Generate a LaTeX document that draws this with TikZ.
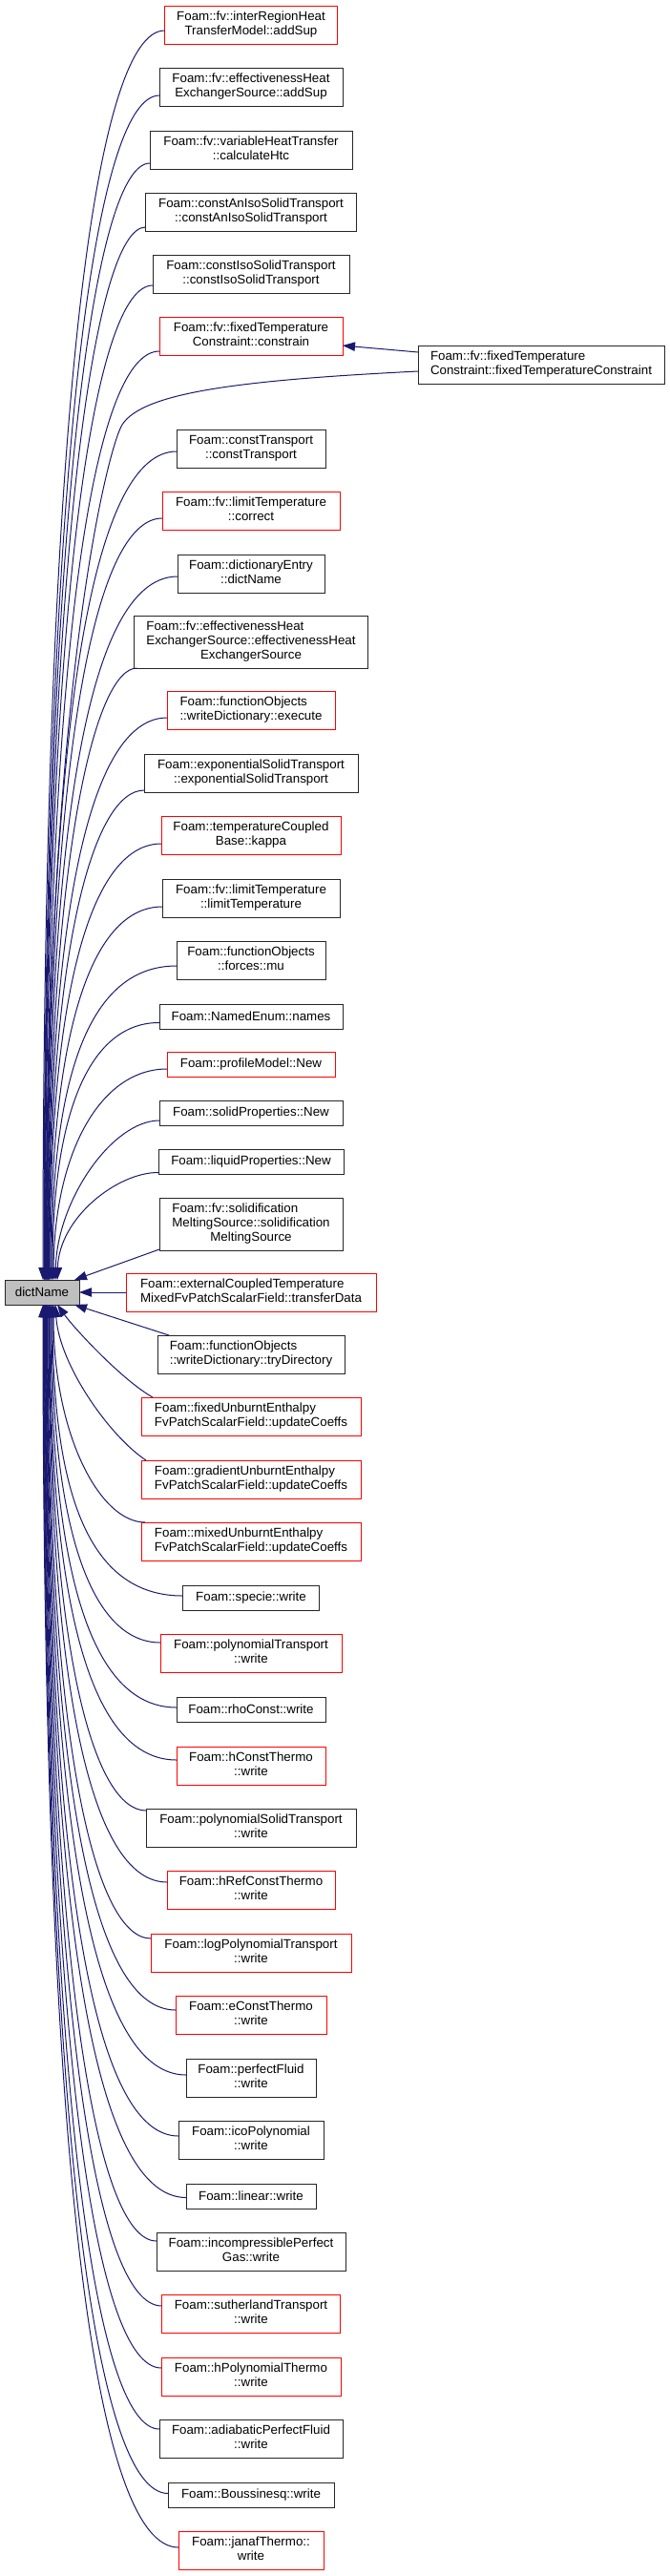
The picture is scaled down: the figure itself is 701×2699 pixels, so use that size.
\documentclass[tikz,border=0pt]{standalone}
\usepackage{fontspec}
\setmainfont{Liberation Sans}
\usetikzlibrary{arrows.meta,calc}
\definecolor{mblue}{RGB}{25,25,112}
\newcommand\lns[2]{\begin{tabular}{@{}#1@{}}#2\end{tabular}}
\newcommand\cn[6]{\node[#2, minimum width={#3*0.75pt}, minimum height={(#5-#4)*0.75pt}] (#1) at (263,{(#4+#5)/2}) {#6};}
\begin{document}
\begin{tikzpicture}[x=0.75pt,y=-0.75pt,
  box/.style={draw=black!85, line width=0.75pt, fill=white, inner sep=0pt, outer sep=0pt, font=\fontsize{10}{11.25}\selectfont},
  hot/.style={box, draw=red},
  edge/.style={draw=mblue, line width=0.75pt, -{Triangle[length=9.75pt,width=7pt]}, fill=none}]
\useasboundingbox[fill=white] (0,0) rectangle (701,2699);

\cn{n1}{hot}{181}{6}{46}{\lns{c}{Foam::fv::interRegionHeat\\TransferModel::addSup}}
\cn{n2}{box}{192}{71}{111}{\lns{c}{Foam::fv::effectivenessHeat\\ExchangerSource::addSup}}
\cn{n3}{box}{212}{137}{177}{\lns{c}{Foam::fv::variableHeatTransfer\\::calculateHtc}}
\cn{n4}{box}{221}{202}{242}{\lns{c}{Foam::constAnIsoSolidTransport\\::constAnIsoSolidTransport}}
\cn{n5}{box}{206}{267}{307}{\lns{c}{Foam::constIsoSolidTransport\\::constIsoSolidTransport}}
\cn{n6}{hot}{192}{332}{372}{\lns{c}{Foam::fv::fixedTemperature\\Constraint::constrain}}
\node[box, minimum width={258*0.75pt}, minimum height={40*0.75pt}] (R) at (567,382) {\lns{l}{Foam::fv::fixedTemperature\\Constraint::fixedTemperatureConstraint}};
\cn{n7}{box}{156}{450}{490}{\lns{c}{Foam::constTransport\\::constTransport}}
\cn{n8}{hot}{186}{515}{555}{\lns{c}{Foam::fv::limitTemperature\\::correct}}
\cn{n9}{box}{154}{581}{621}{\lns{c}{Foam::dictionaryEntry\\::dictName}}
\cn{n10}{box}{245}{645}{700}{\lns{l}{Foam::fv::effectivenessHeat\\ExchangerSource::effectivenessHeat\\\multicolumn{1}{@{}c@{}}{ExchangerSource}}}
\cn{n11}{hot}{176}{724}{764}{\lns{l}{Foam::functionObjects\\::writeDictionary::execute}}
\cn{n12}{box}{224}{790}{830}{\lns{c}{Foam::exponentialSolidTransport\\::exponentialSolidTransport}}
\cn{n13}{hot}{188}{855}{895}{\lns{c}{Foam::temperatureCoupled\\Base::kappa}}
\cn{n14}{box}{186}{921}{961}{\lns{c}{Foam::fv::limitTemperature\\::limitTemperature}}
\cn{n15}{box}{156}{986}{1026}{\lns{c}{Foam::functionObjects\\::forces::mu}}
\cn{n16}{box}{192}{1052}{1078}{Foam::NamedEnum::names}
\cn{n17}{hot}{176}{1102}{1128}{Foam::profileModel::New}
\cn{n18}{box}{192}{1153}{1179}{Foam::solidProperties::New}
\cn{n19}{box}{194}{1204}{1230}{Foam::liquidProperties::New}
\cn{n20}{box}{192}{1255}{1310}{\lns{l}{Foam::fv::solidification\\MeltingSource::solidification\\\multicolumn{1}{@{}c@{}}{MeltingSource}}}
\node[box, fill=black!25, minimum width={78*0.75pt}, minimum height={26*0.75pt}] (D) at (44,1354) {dictName};
\cn{n21}{hot}{262}{1334}{1374}{\lns{l}{Foam::externalCoupledTemperature\\MixedFvPatchScalarField::transferData}}
\cn{n22}{box}{196}{1399}{1439}{\lns{l}{Foam::functionObjects\\::writeDictionary::tryDirectory}}
\cn{n23}{hot}{230}{1464}{1504}{\lns{l}{Foam::fixedUnburntEnthalpy\\FvPatchScalarField::updateCoeffs}}
\cn{n24}{hot}{230}{1530}{1570}{\lns{l}{Foam::gradientUnburntEnthalpy\\FvPatchScalarField::updateCoeffs}}
\cn{n25}{hot}{230}{1595}{1635}{\lns{l}{Foam::mixedUnburntEnthalpy\\FvPatchScalarField::updateCoeffs}}
\cn{n26}{box}{143}{1661}{1687}{Foam::specie::write}
\cn{n27}{hot}{190}{1712}{1752}{\lns{c}{Foam::polynomialTransport\\::write}}
\cn{n28}{box}{156}{1778}{1804}{Foam::rhoConst::write}
\cn{n29}{hot}{156}{1830}{1870}{\lns{c}{Foam::hConstThermo\\::write}}
\cn{n30}{box}{220}{1895}{1935}{\lns{c}{Foam::polynomialSolidTransport\\::write}}
\cn{n31}{hot}{176}{1960}{2000}{\lns{c}{Foam::hRefConstThermo\\::write}}
\cn{n32}{hot}{210}{2026}{2066}{\lns{c}{Foam::logPolynomialTransport\\::write}}
\cn{n33}{hot}{158}{2091}{2131}{\lns{c}{Foam::eConstThermo\\::write}}
\cn{n34}{box}{136}{2157}{2197}{\lns{c}{Foam::perfectFluid\\::write}}
\cn{n35}{box}{152}{2222}{2262}{\lns{c}{Foam::icoPolynomial\\::write}}
\cn{n36}{box}{136}{2288}{2314}{Foam::linear::write}
\cn{n37}{box}{198}{2339}{2379}{\lns{c}{Foam::incompressiblePerfect\\Gas::write}}
\cn{n38}{hot}{187}{2404}{2444}{\lns{c}{Foam::sutherlandTransport\\::write}}
\cn{n39}{hot}{188}{2470}{2510}{\lns{c}{Foam::hPolynomialThermo\\::write}}
\cn{n40}{box}{192}{2535}{2575}{\lns{c}{Foam::adiabaticPerfectFluid\\::write}}
\cn{n41}{box}{174}{2601}{2627}{Foam::Boussinesq::write}
\cn{n42}{hot}{152}{2652}{2692}{\lns{c}{Foam::janafThermo::\\write}}

% edges from callers above
\draw[edge] ($(n1.west)+(0,6)$) .. controls (100,32) and (45,425) .. ($(D.north)+(1,0)$);
\draw[edge] ($(n2.west)+(0,9)$) .. controls (100,100) and (46,472) .. ($(D.north)+(2,0)$);
\draw[edge] ($(n3.west)+(0,14)$) .. controls (100,171) and (46.5,522) .. ($(D.north)+(2.5,0)$);
\draw[edge] ($(n4.west)+(0,16)$) .. controls (100,238) and (47,569) .. ($(D.north)+(3,0)$);
\draw[edge] ($(n5.west)+(0,12)$) .. controls (100,299) and (47.5,612) .. ($(D.north)+(3.5,0)$);
\draw[edge] ($(n6.west)+(0,16)$) .. controls (100,368) and (48.5,660) .. ($(D.north)+(4.5,0)$);
\draw[edge] ($(R.west)+(0,-13)$) -- ($(n6.east)+(0,10)$);
\draw[edge] ($(R.west)+(0,7)$) .. controls (260,398) and (150,410) .. (128,445) .. controls (114,467) and (48,714) .. ($(D.north)+(4,0)$);
\draw[edge] ($(n7.west)+(0,3)$) .. controls (100,473) and (49,733) .. ($(D.north)+(5,0)$);
\draw[edge] ($(n8.west)+(0,8)$) .. controls (100,543) and (49.5,782) .. ($(D.north)+(5.5,0)$);
\draw[edge] ($(n9.west)+(0,3)$) .. controls (100,604) and (50,825) .. ($(D.north)+(6,0)$);
\draw[edge] ($(n10.south west)+(3,0)$) .. controls (100,700) and (50.5,892) .. ($(D.north)+(6.5,0)$);
\draw[edge] ($(n11.west)+(0,8)$) .. controls (100,752) and (51,929) .. ($(D.north)+(7,0)$);
\draw[edge] ($(n12.west)+(0,18)$) .. controls (100,828) and (51.5,982) .. ($(D.north)+(7.5,0)$);
\draw[edge] ($(n13.west)+(0,9)$) .. controls (100,884) and (52,1021) .. ($(D.north)+(8,0)$);
\draw[edge] ($(n14.west)+(0,9)$) .. controls (100,950) and (53,1067) .. ($(D.north)+(9,0)$);
\draw[edge] ($(n15.west)+(0,6)$) .. controls (100,1012) and (54,1111) .. ($(D.north)+(10,0)$);
\draw[edge] ($(n16.west)+(0,6.5)$) .. controls (100,1071) and (55,1152) .. ($(D.north)+(11,0)$);
\draw[edge] ($(n17.west)+(0,5)$) .. controls (105,1120) and (57,1208) .. ($(D.north)+(12,0)$);
\draw[edge] ($(n18.west)+(0,8)$) .. controls (118,1174) and (60,1257) .. ($(D.north)+(14,0)$);
\draw[edge] ($(n19.west)+(0,11.5)$) .. controls (124,1228) and (62,1275) .. ($(D.north)+(16,0)$);
\draw[edge] ($(n20.south west)+(0,-1)$) -- ($(D.north)+(34,0)$);

% edges from callers below
\draw[edge] (n21.west) -- (D.east);
\draw[edge] ($(n22.north west)+(12,0)$) -- ($(D.south)+(34,0)$);
\draw[edge] ($(n23.north west)+(12,0)$) .. controls (128,1446) and (78,1392) .. ($(D.south)+(16,0)$);
\draw[edge] ($(n24.north west)+(5,0)$) .. controls (115,1505) and (62,1430) .. ($(D.south)+(14,0)$);
\draw[edge] ($(n25.north west)+(4,0)$) .. controls (105,1595) and (56,1504) .. ($(D.south)+(12,0)$);
\draw[edge] ($(n26.west)+(0,-2)$) .. controls (100,1672) and (55,1580) .. ($(D.south)+(11,0)$);
\draw[edge] ($(n27.west)+(0,-11)$) .. controls (100,1721) and (54,1615) .. ($(D.south)+(10,0)$);
\draw[edge] ($(n28.west)+(0,-2)$) .. controls (100,1789) and (53,1662) .. ($(D.south)+(9,0)$);
\draw[edge] ($(n29.west)+(0,-6)$) .. controls (100,1844) and (52,1701) .. ($(D.south)+(8,0)$);
\draw[edge] ($(n30.west)+(0,-18)$) .. controls (100,1897) and (51.5,1738) .. ($(D.south)+(7.5,0)$);
\draw[edge] ($(n31.west)+(0,-8)$) .. controls (100,1972) and (51,1790) .. ($(D.south)+(7,0)$);
\draw[edge] ($(n32.west)+(0,-15)$) .. controls (100,2031) and (50,1832) .. ($(D.south)+(6,0)$);
\draw[edge] ($(n33.west)+(0,-5)$) .. controls (100,2106) and (49.5,1884) .. ($(D.south)+(5.5,0)$);
\draw[edge] ($(n34.west)+(0,-3)$) .. controls (100,2174) and (49,1932) .. ($(D.south)+(5,0)$);
\draw[edge] ($(n35.west)+(0,-4)$) .. controls (100,2238) and (48.5,1977) .. ($(D.south)+(4.5,0)$);
\draw[edge] ($(n36.west)+(0,1.5)$) .. controls (100,2302) and (48,2021) .. ($(D.south)+(4,0)$);
\draw[edge] ($(n37.west)+(0,-11)$) .. controls (100,2348) and (47.5,2054) .. ($(D.south)+(3.5,0)$);
\draw[edge] ($(n38.west)+(0,-8)$) .. controls (100,2416) and (47,2101) .. ($(D.south)+(3,0)$);
\draw[edge] ($(n39.west)+(0,-9)$) .. controls (100,2481) and (46.5,2147) .. ($(D.south)+(2.5,0)$);
\draw[edge] ($(n40.west)+(0,-10)$) .. controls (100,2545) and (46,2192) .. ($(D.south)+(2,0)$);
\draw[edge] ($(n41.west)+(0,-1.5)$) .. controls (100,2612) and (45.5,2238) .. ($(D.south)+(1.5,0)$);
\draw[edge] ($(n42.west)+(0,-3)$) .. controls (100,2669) and (45,2278) .. ($(D.south)+(1,0)$);
\end{tikzpicture}
\end{document}
